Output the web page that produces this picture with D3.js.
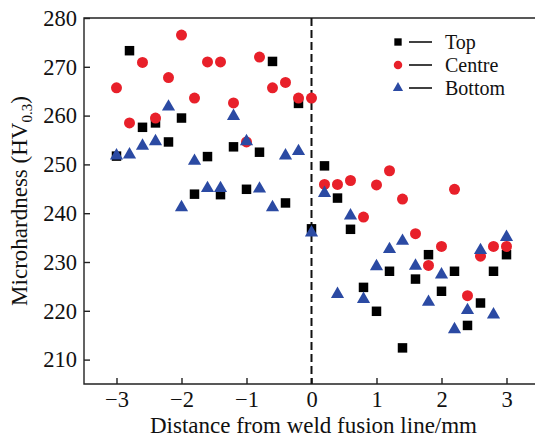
<!DOCTYPE html>
<html>
<head>
<meta charset="utf-8">
<script src="https://cdn.jsdelivr.net/npm/d3@7"></script>
<style>
  body { margin: 0; background: #fff; }
  svg text { font-family: "Liberation Serif", "DejaVu Serif", serif; fill: #111; }
</style>
</head>
<body>
<div id="chart"></div>
<script>
// distance from fusion line (mm), step 0.2
const distances = d3.range(31).map(i => +(-3 + i * 0.2).toFixed(1));

const topValues = [251.7, 273.3, 257.6, 258.5, 254.6, 259.5, 243.9, 251.6, 243.8, 253.6,
  244.9, 252.5, 271.1, 242.1, 262.5, 236.8, 249.7, 243.1, 236.7, 224.8,
  219.9, 228.1, 212.4, 226.5, 231.5, 224.0, 228.1, 217.0, 221.6, 228.1, 231.5];

const centreValues = [265.7, 258.5, 270.9, 259.5, 267.8, 276.5, 263.6, 271.0, 271.0, 262.6,
  254.6, 272.0, 265.7, 266.8, 263.6, 263.6, 245.9, 245.9, 246.7, 239.2,
  245.8, 248.7, 242.9, 235.8, 229.3, 233.2, 244.9, 223.1, 231.2, 233.2, 233.2];

const bottomValues = [251.8, 252.0, 253.8, 254.7, 261.8, 241.2, 250.7, 245.1, 245.1, 259.9,
  254.7, 245.0, 241.2, 251.8, 252.7, 236.0, 244.1, 223.4, 239.5, 222.4,
  229.1, 232.6, 234.3, 229.2, 221.8, 227.4, 216.2, 220.1, 232.4, 219.2, 235.1];

const xTicks = [-3, -2, -1, 0, 1, 2, 3];
const yTicks = [210, 220, 230, 240, 250, 260, 270, 280];

const series = [
  { name: 'Top', values: topValues, symbol: d3.symbolSquare, size: 90, color: '#000000' },
  { name: 'Centre', values: centreValues, symbol: d3.symbolCircle, size: 95, color: '#e8202a' },
  { name: 'Bottom', values: bottomValues, symbol: d3.symbolTriangle, size: 75, color: '#2b4aa3' }
];

const width = 535, height = 439;
const margin = { top: 18, left: 84, right: -4, bottom: 55 };
const fontSize = 22.5;

const svg = d3.select('#chart').append('svg')
  .attr('width', width)
  .attr('height', height);

const x = d3.scaleLinear().domain([-3.5, 3.5]).range([margin.left, width - margin.right]);
const y = d3.scaleLinear().domain([205, 280]).range([height - margin.bottom, margin.top]);

// frame: left, top, bottom (right side is off the picture)
svg.append('path')
  .attr('d', `M${x.range()[1]},${y(280)}H${margin.left}V${y(205)}H${x.range()[1]}`)
  .attr('fill', 'none')
  .attr('stroke', '#222')
  .attr('stroke-width', 1.4);

// x axis, ticks pointing inward
const xAxis = svg.append('g')
  .attr('transform', `translate(0,${y(205)})`)
  .call(d3.axisBottom(x).tickValues(xTicks).tickSizeInner(-6).tickSizeOuter(0)
    .tickPadding(7).tickFormat(d => d < 0 ? '\u2212' + Math.abs(d) : d));
xAxis.select('.domain').remove();
xAxis.selectAll('line').attr('stroke', '#222').attr('stroke-width', 1.4);
xAxis.selectAll('text').attr('font-size', fontSize).attr('dy', '0.71em');

// y axis
const yAxis = svg.append('g')
  .attr('transform', `translate(${margin.left},0)`)
  .call(d3.axisLeft(y).tickValues(yTicks).tickSizeInner(-6).tickSizeOuter(0).tickPadding(7));
yAxis.select('.domain').remove();
yAxis.selectAll('line').attr('stroke', '#222').attr('stroke-width', 1.4);
yAxis.selectAll('text').attr('font-size', fontSize);

// axis titles
svg.append('text')
  .attr('x', x(0) + 2)
  .attr('y', 433)
  .attr('text-anchor', 'middle')
  .attr('font-size', fontSize + 0.5)
  .text('Distance from weld fusion line/mm');

const yLabel = svg.append('text')
  .attr('transform', `translate(27,${(y(205) + y(280)) / 2}) rotate(-90)`)
  .attr('text-anchor', 'middle')
  .attr('font-size', fontSize + 0.5);
yLabel.append('tspan').text('Microhardness (HV');
yLabel.append('tspan').attr('font-size', 15).attr('dy', 5).text('0.3');
yLabel.append('tspan').attr('dy', -5).text(')');

// fusion line
svg.append('line')
  .attr('x1', x(0)).attr('x2', x(0))
  .attr('y1', y(280)).attr('y2', y(205))
  .attr('stroke', '#111')
  .attr('stroke-width', 2)
  .attr('stroke-dasharray', '8,4');

// points
series.forEach(s => {
  svg.append('g')
    .selectAll('path')
    .data(s.values.map((v, i) => [distances[i], v]))
    .join('path')
    .attr('transform', d => `translate(${x(d[0])},${y(d[1])})`)
    .attr('d', d3.symbol().type(s.symbol).size(s.size))
    .attr('fill', s.color);
});

// legend
const legend = svg.append('g').attr('transform', 'translate(398,42)');
series.forEach((s, i) => {
  const row = legend.append('g').attr('transform', `translate(0,${i * 23})`);
  row.append('path')
    .attr('d', d3.symbol().type(s.symbol).size(s.size * 0.6))
    .attr('fill', s.color);
  row.append('line')
    .attr('x1', 11).attr('x2', 34)
    .attr('stroke', '#111').attr('stroke-width', 1.6);
  row.append('text')
    .attr('x', 47)
    .attr('dy', '0.35em')
    .attr('font-size', 20)
    .text(s.name);
});
</script>
</body>
</html>
